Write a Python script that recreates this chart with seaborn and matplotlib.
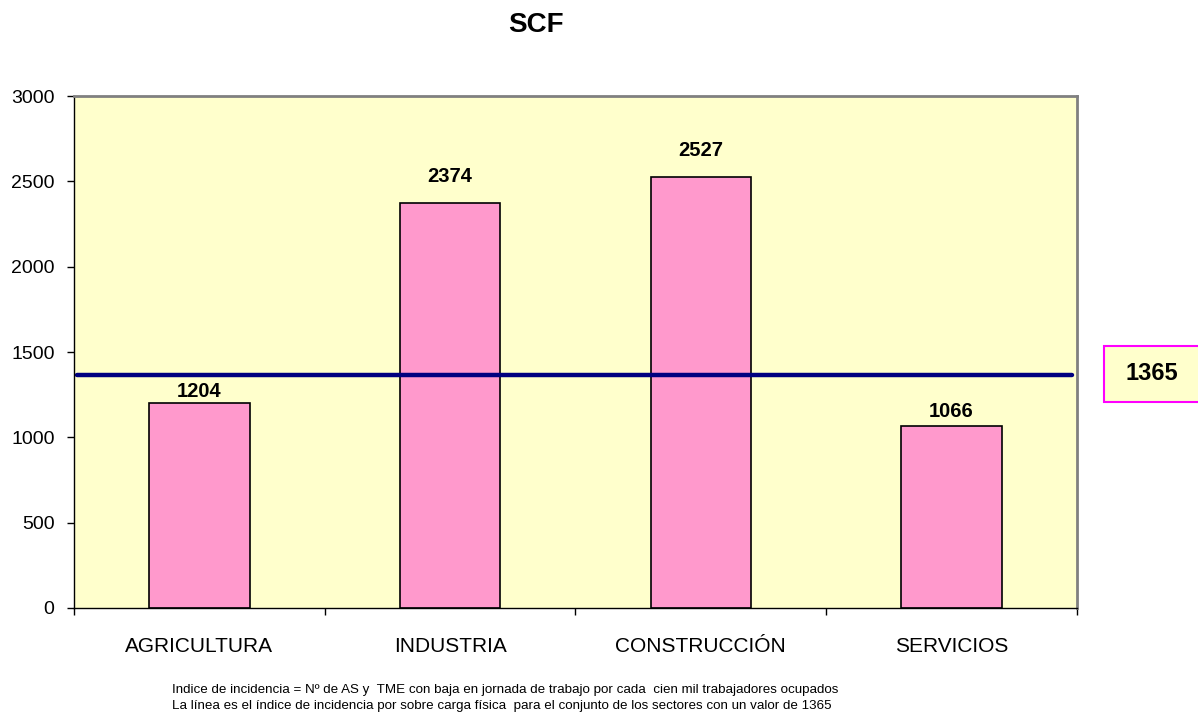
import numpy as np
import pandas as pd
import matplotlib
matplotlib.use("Agg")
import matplotlib.pyplot as plt
from matplotlib.patches import Rectangle
import seaborn as sns

# 数据
sectores = ["AGRICULTURA", "INDUSTRIA", "CONSTRUCCIÓN", "SERVICIOS"]
indices = [1204, 2374, 2527, 1066]
media_total = 1365
notas = [
    "Indice de incidencia = Nº de AS y  TME con baja en jornada de trabajo por cada  cien mil trabajadores ocupados",
    "La línea es el índice de incidencia por sobre carga física  para el conjunto de los sectores con un valor de 1365",
]

sns.set_theme(style="white")
plt.rcParams["font.family"] = ["Liberation Sans", "DejaVu Sans"]
plt.rcParams["text.color"] = "black"
plt.rcParams["xtick.color"] = "black"
plt.rcParams["ytick.color"] = "black"

df = pd.DataFrame({"sector": sectores, "indice": indices})

fig = plt.figure(figsize=(11.98, 7.13), dpi=100)
ax = fig.add_axes([0.0618, 0.1473, 0.837, 0.718])
ax.set_facecolor("#FFFFCC")

sns.barplot(data=df, x="sector", y="indice", color="#FF99CC", width=0.4,
            edgecolor="black", linewidth=1.2, saturation=1, ax=ax)

# etiquetas de valor (desplazamiento en puntos)
offsets = [1, 12, 12, 4]
for i, (v, off) in enumerate(zip(indices, offsets)):
    ax.annotate(str(v), (i, v), xytext=(0, off), textcoords="offset points",
                ha="center", va="bottom", fontsize=14.5, fontweight="bold")

# línea del conjunto
ax.axhline(media_total, xmin=0.003, xmax=0.995, color="#000080", lw=3.2)

ax.set_xlim(-0.5, len(sectores) - 0.5)
ax.set_ylim(0, 3000)
ax.set_yticks(np.arange(0, 3001, 500))
ax.set_xlabel("")
ax.set_ylabel("")
ax.tick_params(axis="y", labelsize=14, length=5, width=1, left=True, pad=9)
ax.tick_params(axis="x", which="major", labelsize=15, length=0, pad=21)
ax.set_xticks(np.arange(-0.5, len(sectores), 1.0), minor=True)
ax.tick_params(axis="x", which="minor", length=5, width=1, bottom=True)

for s in ["top", "right"]:
    ax.spines[s].set_color("#808080")
    ax.spines[s].set_linewidth(2)
for s in ["left", "bottom"]:
    ax.spines[s].set_color("black")
    ax.spines[s].set_linewidth(1)

fig.text(0.447, 0.965, "SCF", ha="center", va="center", fontsize=20, fontweight="bold")

# recuadro del valor medio
fig.patches.append(Rectangle((0.9215, 0.4362), 0.1, 0.0785, transform=fig.transFigure,
                             facecolor="#FFFFCC", edgecolor="#FF00FF", lw=1.5))
fig.text(0.9615, 0.4755, str(media_total), ha="center", va="center", fontsize=17,
         fontweight="bold")

fig.text(0.1436, 0.0320, notas[0], fontsize=9.6, va="center")
fig.text(0.1436, 0.0095, notas[1], fontsize=9.6, va="center")

fig.savefig("out.png", dpi=100)
